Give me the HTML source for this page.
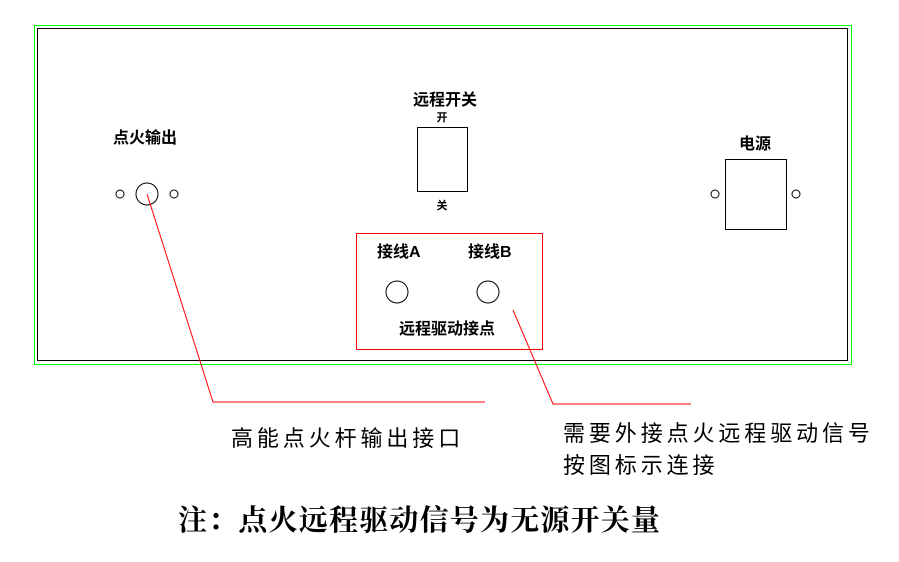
<!DOCTYPE html>
<html><head><meta charset="utf-8"><style>
body{margin:0;background:#fff;}
svg text{font-family:"Liberation Sans","Noto Sans CJK SC",sans-serif;}
.b{font-weight:bold;font-size:16px;}
.s{font-weight:bold;font-size:11px;}
.r{font-size:22px;letter-spacing:3.9px;}
.n{font-family:"Liberation Serif","Noto Serif CJK SC",serif !important;font-weight:bold;font-size:29px;letter-spacing:1.2px;}
</style></head><body>
<svg width="899" height="557" xmlns="http://www.w3.org/2000/svg">
<rect x="34.5" y="25.5" width="817" height="339" fill="none" stroke="#00ff00" stroke-width="1"/>
<rect x="37.5" y="28.5" width="810" height="332" fill="none" stroke="#000" stroke-width="1"/>
<g fill="none" stroke="#000" stroke-width="1">
<circle cx="120" cy="194" r="4"/><circle cx="147" cy="194" r="11"/><circle cx="174" cy="194" r="4"/>
<rect x="417.5" y="127.5" width="50" height="64"/>
<rect x="725.5" y="159.5" width="61" height="70"/>
<circle cx="715" cy="194" r="4"/><circle cx="796" cy="194" r="4"/>
<circle cx="397" cy="292" r="11"/><circle cx="488" cy="292" r="11"/>
</g>
<rect x="356.5" y="233.5" width="186" height="116" fill="none" stroke="#ff0000"/>
<polyline points="147,194 213,402 485,402" fill="none" stroke="#ff0000"/>
<polyline points="513,310 553,404 691,404" fill="none" stroke="#ff0000"/>
<text class="b" x="113" y="143">点火输出</text>
<text class="b" x="445" y="105" text-anchor="middle">远程开关</text>
<text class="s" x="442" y="121" text-anchor="middle">开</text>
<text class="s" x="442" y="209" text-anchor="middle">关</text>
<text class="b" x="755" y="149" text-anchor="middle">电源</text>
<text class="b" x="377" y="257">接线A</text>
<text class="b" x="468" y="257">接线B</text>
<text class="b" x="447" y="334" text-anchor="middle">远程驱动接点</text>
<text class="r" x="231" y="446">高能点火杆输出接口</text>
<text class="r" x="563" y="441">需要外接点火远程驱动信号</text>
<text class="r" x="563" y="473">按图标示连接</text>
<text class="n" x="178" y="530">注：点火远程驱动信号为无源开关量</text>
</svg>
</body></html>
